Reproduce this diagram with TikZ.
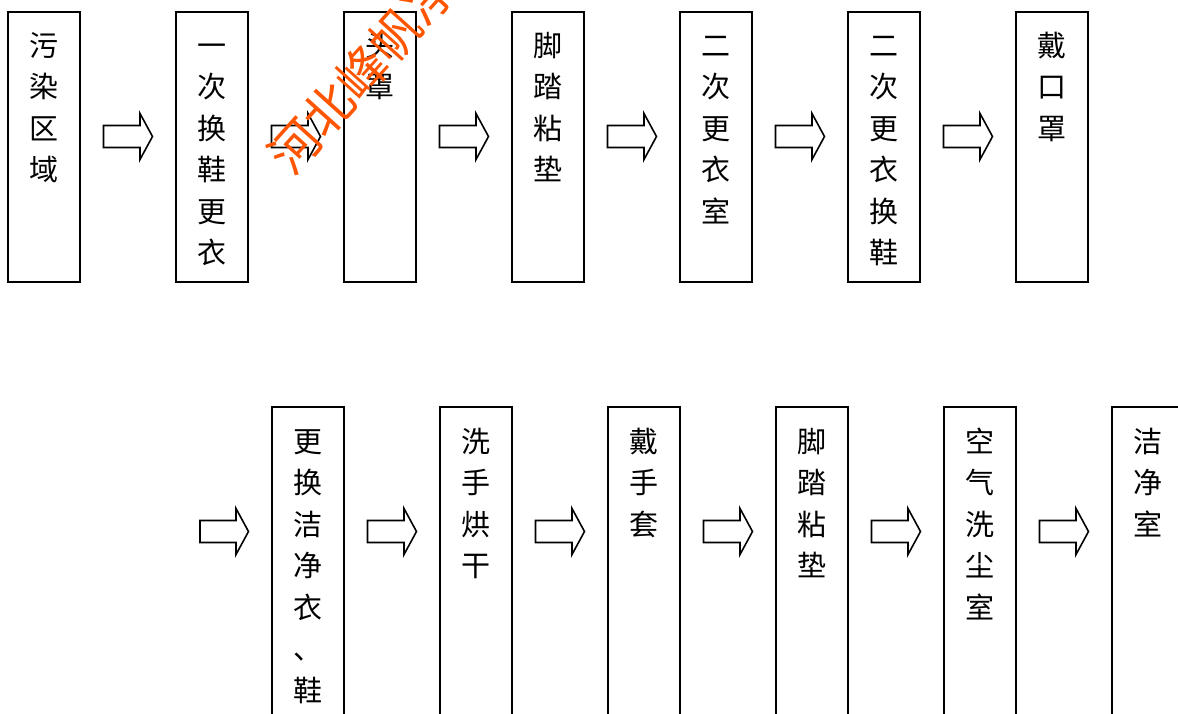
\documentclass[tikz,border=0pt]{standalone}
\usepackage{fontspec}
\newfontfamily\cjk{Noto Sans CJK SC}
\usetikzlibrary{positioning,calc}
\definecolor{wmcolor}{RGB}{255,85,0}
\tikzset{
  box/.style={draw, line width=1.8pt, minimum width=72pt, minimum height=270pt, inner sep=0pt, outer sep=0pt},
  boxlong/.style={box, minimum height=330pt},
  lab/.style={font=\cjk\fontsize{29}{41.5}\selectfont, align=center, inner sep=0pt, anchor=north},
  blk/.style={draw, line width=1.6pt, line join=miter, fill=white},
  wmark/.style={font=\cjk\fontsize{50}{50}\selectfont, text=wmcolor, inner sep=0pt},
}
\newcommand\blkflow[2]{%
  \draw[blk] let \p1=#1, \p2=(#2.north west) in
    (\x1+23.5pt,\y2-113.5pt) -- (\x2-36pt,\y2-113.5pt) -- (\x2-36pt,\y2-101.5pt)
    -- (\x2-23.5pt,\y2-124.5pt) -- (\x2-36pt,\y2-147.5pt) -- (\x2-36pt,\y2-135.5pt)
    -- (\x1+23.5pt,\y2-135.5pt) -- cycle;}
\begin{document}
\begin{tikzpicture}[x=1pt,y=-1pt]
\useasboundingbox (0,0) rectangle (1178,713);
\clip (0,0) rectangle (1178,713);
% top row
\node[box] (a1) at (44,147) {};
\node[box] (a2) at (212,147) {};
\node[box] (a3) at (380,147) {};
\node[box] (a4) at (548,147) {};
\node[box] (a5) at (716,147) {};
\node[box] (a6) at (884,147) {};
\node[box] (a7) at (1052,147) {};
\node[lab] (la1) at ($(a1.north)+(0,15)$) {\strut 污\\染\\区\\域};
\node[lab] (la2) at ($(a2.north)+(0,15)$) {\strut 一\\次\\换\\鞋\\更\\衣};
\node[lab] (la3) at ($(a3.north)+(0,15)$) {\strut 头\\罩};
\node[lab] (la4) at ($(a4.north)+(0,15)$) {\strut 脚\\踏\\粘\\垫};
\node[lab] (la5) at ($(a5.north)+(0,15)$) {\strut 二\\次\\更\\衣\\室};
\node[lab] (la6) at ($(a6.north)+(0,15)$) {\strut 二\\次\\更\\衣\\换\\鞋};
\node[lab] (la7) at ($(a7.north)+(0,15)$) {\strut 戴\\口\\罩};
\blkflow{(a1.north east)}{a2}
\blkflow{(a2.north east)}{a3}
\blkflow{(a3.north east)}{a4}
\blkflow{(a4.north east)}{a5}
\blkflow{(a5.north east)}{a6}
\blkflow{(a6.north east)}{a7}
% bottom row
\coordinate (b0) at (176.5,407);
\node[boxlong] (b1) at (308,572) {};
\node[boxlong] (b2) at (476,572) {};
\node[boxlong] (b3) at (644,572) {};
\node[boxlong] (b4) at (812,572) {};
\node[boxlong] (b5) at (980,572) {};
\node[boxlong] (b6) at (1148,572) {};
\node[lab] (lb1) at ($(b1.north)+(0,16)$) {\strut 更\\换\\洁\\净\\衣\\、\\鞋};
\node[lab] (lb2) at ($(b2.north)+(0,16)$) {\strut 洗\\手\\烘\\干};
\node[lab] (lb3) at ($(b3.north)+(0,16)$) {\strut 戴\\手\\套};
\node[lab] (lb4) at ($(b4.north)+(0,16)$) {\strut 脚\\踏\\粘\\垫};
\node[lab] (lb5) at ($(b5.north)+(0,16)$) {\strut 空\\气\\洗\\尘\\室};
\node[lab] (lb6) at ($(b6.north)+(0,16)$) {\strut 洁\\净\\室};
\blkflow{(b0)}{b1}
\blkflow{(b1.north east)}{b2}
\blkflow{(b2.north east)}{b3}
\blkflow{(b3.north east)}{b4}
\blkflow{(b4.north east)}{b5}
\blkflow{(b5.north east)}{b6}
% watermark
\node[wmark, rotate=48] (wm) at (362,72) {河北峰帆净};
\end{tikzpicture}
\end{document}
